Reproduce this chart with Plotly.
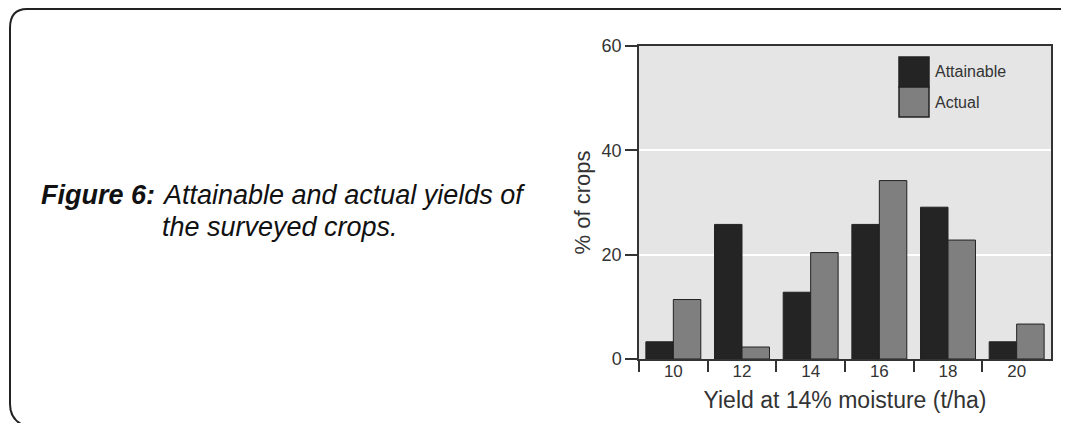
import plotly.graph_objects as go

# yield classes (t/ha at 14% moisture) and % of crops in each class
yield_classes = ["10", "12", "14", "16", "18", "20"]
attainable = [3.3, 25.8, 12.8, 25.8, 29.1, 3.3]
actual = [11.4, 2.3, 20.4, 34.2, 22.8, 6.7]

# the page puts the figure 8px in from the top-left corner
OFF = 8
W, H = 1069 - OFF, 423 - OFF
# plot box in page pixels
PL, PR, PT, PB = 639, 1051, 46, 359


def px(x):
    return (x - OFF) / W


def py(y):
    return 1 - (y - OFF) / H


fig = go.Figure()
fig.add_trace(go.Bar(x=yield_classes, y=attainable, name="Attainable",
                     marker=dict(color="#242424", line=dict(color="#222222", width=1))))
fig.add_trace(go.Bar(x=yield_classes, y=actual, name="Actual",
                     marker=dict(color="#7f7f7f", line=dict(color="#222222", width=1))))

axis_font = dict(family="Liberation Sans, Arial, sans-serif", size=17, color="#333333")

fig.update_layout(
    width=W, height=H,
    margin=dict(l=0, r=0, t=0, b=0),
    paper_bgcolor="white",
    plot_bgcolor="#e5e5e5",
    showlegend=False,
    barmode="group",
    bargap=0.2,
    bargroupgap=0,
    font=axis_font,
    xaxis=dict(
        domain=[px(PL), px(PR)],
        type="category",
        tickson="boundaries",
        ticks="outside", ticklen=11, tickwidth=1.5, tickcolor="#333333",
        showline=True, linecolor="#333333", linewidth=1.5, mirror=True,
        showgrid=False,
        ticklabelstandoff=-4,
        title=dict(text="Yield at 14% moisture (t/ha)", font=dict(size=23), standoff=12),
        automargin=False,
    ),
    yaxis=dict(
        domain=[py(PB), py(PT)],
        range=[0, 60],
        tickvals=[0, 20, 40, 60],
        ticks="outside", ticklen=12, tickwidth=1.5, tickcolor="#333333",
        showline=True, linecolor="#333333", linewidth=1.5, mirror=True,
        showgrid=True, gridcolor="white", gridwidth=1.5,
        zeroline=False,
        tickfont=dict(size=18),
        title=dict(text="% of crops", font=dict(size=22), standoff=5),
        automargin=False,
    ),
)

# legend drawn as big swatches like the original
fig.add_shape(type="rect", xref="paper", yref="paper",
              x0=px(899), x1=px(929), y0=py(87), y1=py(57),
              fillcolor="#242424", line=dict(color="#222222", width=1.5))
fig.add_shape(type="rect", xref="paper", yref="paper",
              x0=px(899), x1=px(929), y0=py(117), y1=py(87),
              fillcolor="#7f7f7f", line=dict(color="#222222", width=1.5))
for name, yc in [("Attainable", 72), ("Actual", 102)]:
    fig.add_annotation(text=name, xref="paper", yref="paper", x=px(933), y=py(yc),
                       xanchor="left", yanchor="middle", showarrow=False,
                       font=dict(size=16, color="#333333"))

# rounded frame around the figure
path = (f"M {px(21)},{py(424)} Q {px(10)},{py(418)} {px(10)},{py(404)} "
        f"L {px(10)},{py(28)} Q {px(10)},{py(9)} {px(27)},{py(9)} "
        f"L {px(1062)},{py(9)} Q {px(1068)},{py(9)} {px(1070)},{py(14)}")
fig.add_shape(type="path", xref="paper", yref="paper", path=path,
              line=dict(color="#222222", width=2))

cap_font = dict(family="Liberation Sans, Arial, sans-serif", size=27, color="#111111")
fig.add_annotation(text="<b><i>Figure 6:</i></b>", xref="paper", yref="paper",
                   x=px(157), y=py(195), xanchor="right", yanchor="middle",
                   showarrow=False, font=cap_font)
fig.add_annotation(text="<i>Attainable and actual yields of</i>", xref="paper", yref="paper",
                   x=px(160), y=py(195), xanchor="left", yanchor="middle",
                   showarrow=False, font=cap_font)
fig.add_annotation(text="<i>the surveyed crops.</i>", xref="paper", yref="paper",
                   x=px(160), y=py(227), xanchor="left", yanchor="middle",
                   showarrow=False, font=cap_font)

fig.write_html("out.html")
